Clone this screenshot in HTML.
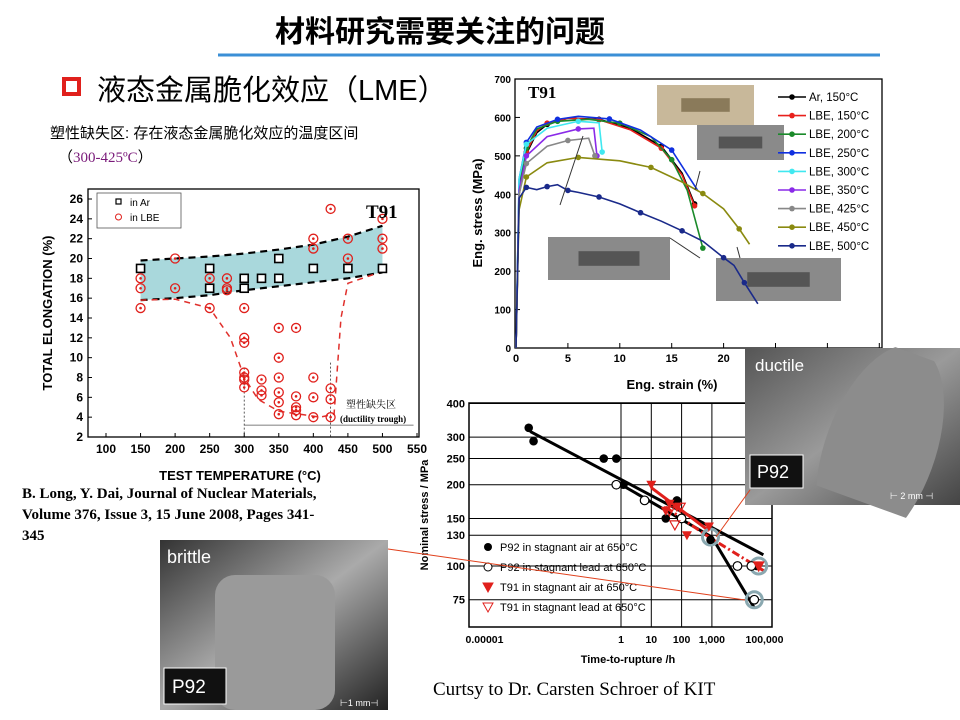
<!DOCTYPE html>
<html><head><meta charset="utf-8"><style>
body{margin:0;background:#fff;}
svg{display:block;font-family:"Liberation Sans","Noto Sans CJK SC",sans-serif;}
</style></head><body>
<svg id="s" width="960" height="720" viewBox="0 0 960 720">
<defs>
<linearGradient id="gd" x1="0" y1="0" x2="1" y2="1"><stop offset="0" stop-color="#555"/><stop offset="0.5" stop-color="#9a9a9a"/><stop offset="1" stop-color="#444"/></linearGradient>
<linearGradient id="gb" x1="0" y1="0" x2="1" y2="1"><stop offset="0" stop-color="#333"/><stop offset="0.5" stop-color="#aaa"/><stop offset="1" stop-color="#222"/></linearGradient>
<clipPath id="cd"><rect x="745" y="348" width="215" height="157"/></clipPath>
</defs>
<text x="440" y="42" text-anchor="middle" font-size="30" font-weight="bold" font-family="'Noto Sans CJK SC',sans-serif">材料研究需要关注的问题</text>
<line x1="218" y1="55" x2="880" y2="55" stroke="#3b8fd6" stroke-width="3"/>
<rect x="64" y="79" width="15" height="15" fill="none" stroke="#e0201c" stroke-width="4"/>
<text x="97" y="100" font-size="29" font-family="'Liberation Sans','Noto Sans CJK SC',sans-serif">液态金属脆化效应（LME）</text>
<text x="50" y="138" font-size="15">塑性缺失区: 存在液态金属脆化效应的温度区间</text>
<text x="58" y="162" font-size="15">（<tspan fill="#7a1a7a" font-family="'Liberation Serif',serif">300-425ºC</tspan>）</text>

<g id="lc">
<rect x="88" y="189" width="331" height="248" fill="#fff" stroke="#000" stroke-width="1.3"/>
</g>
<g id="rc">
<rect x="515" y="79" width="367" height="269" fill="#fff" stroke="#000" stroke-width="1.3"/>
</g>
<g id="bc">
<rect x="469" y="403" width="303" height="224" fill="#fff" stroke="#000" stroke-width="1.5"/>
</g>

<text x="22" y="498" font-size="15" font-weight="bold" font-family="'Liberation Serif',serif"><tspan x="22">B. Long, Y. Dai, Journal of Nuclear Materials,</tspan><tspan x="22" dy="21">Volume 376, Issue 3, 15 June 2008, Pages 341-</tspan><tspan x="22" dy="21">345</tspan></text>

<g>
<rect x="745" y="348" width="215" height="157" fill="url(#gd)"/>
<ellipse cx="880" cy="450" rx="55" ry="110" fill="#8c8c8c" transform="rotate(20 880 450)" clip-path="url(#cd)"/>
<text x="755" y="371" font-size="17" fill="#fff">ductile</text>
<rect x="750" y="455" width="53" height="33" fill="#111" stroke="#fff" stroke-width="1"/>
<text x="757" y="478" font-size="18" fill="#fff">P92</text>
<text x="890" y="499" font-size="9" fill="#fff">⊢ 2 mm ⊣</text>
</g>
<g>
<rect x="160" y="540" width="228" height="170" fill="url(#gb)"/>
<rect x="215" y="575" width="120" height="135" rx="20" fill="#9a9a9a"/>
<text x="167" y="563" font-size="18" fill="#fff">brittle</text>
<rect x="164" y="668" width="62" height="36" fill="#111" stroke="#fff" stroke-width="1"/>
<text x="172" y="693" font-size="19" fill="#fff">P92</text>
<text x="340" y="706" font-size="9" fill="#fff">⊢1 mm⊣</text>
</g>
<line x1="388" y1="549" x2="745" y2="600" stroke="#e0401c" stroke-width="1"/>
<line x1="750" y1="490" x2="716" y2="537" stroke="#e0401c" stroke-width="1"/>
<text x="433" y="695" font-size="19" font-family="'Liberation Serif',serif">Curtsy to Dr. Carsten Schroer of KIT</text>
</svg>
<script>
const arTemps=[150,250,250,300,300,325,350,350,400,450,500];
const arElong=[19,19,17,18,17,18,20,18,19,19,19];
const lbeTemps=[150,150,150,200,200,250,250,275,275,275,300,300,300,300,300,300,300,325,325,325,350,350,350,350,350,350,375,375,375,375,375,400,400,400,400,400,425,425,425,425,450,450,500,500,500];
const lbeElong=[18,17,15,20,17,18,15,18,17,16.8,15,12,11.5,8.5,8,7.8,7,7.8,6.7,6.2,13,10,8,6.5,5.5,4.3,13,6.1,5,4.7,4.2,22,21,8,6,4,25,6.9,5.8,4,22,20,24,22,21];
const bandTemps=[150,200,250,300,350,400,450,500];
const bandUpper=[19.8,20,20.2,20.5,20.9,21.4,22.2,23.3];
const bandLower=[15.8,16,16.3,16.8,17.2,17.6,18,18.6];
const xTicksL=[100,150,200,250,300,350,400,450,500,550];
const yTicksL=[2,4,6,8,10,12,14,16,18,20,22,24,26];
const NS='http://www.w3.org/2000/svg';
function mk(p,tag,a){const e=document.createElementNS(NS,tag);for(const k in a)e.setAttribute(k,a[k]);p.appendChild(e);return e;}
const lx=t=>106+(t-100)*(311/450), ly=v=>437-(v-2)*(238/24);
const lc=document.getElementById('lc');
let d='M'+bandTemps.map((t,i)=>lx(t)+','+ly(bandUpper[i])).join('L')+'L'+bandTemps.slice().reverse().map((t,i)=>lx(t)+','+ly(bandLower[bandLower.length-1-i])).join('L')+'Z';
let band=mk(lc,'path',{d:d,fill:'#a9d8dc'});


[bandUpper,bandLower].forEach((arr,j)=>{const l=mk(lc,'polyline',{points:bandTemps.map((t,i)=>lx(t)+','+ly(arr[i])).join(' '),fill:'none',stroke:'#000','stroke-width':2.2,'stroke-dasharray':'7,5'});

});
const trough=[[150,15.8],[200,15.9],[250,15],[280,12],[300,8],[320,5.8],[350,4.6],[380,4.3],[410,4],[430,4.3],[440,14],[450,17.5],[500,18.7]];
let tr=mk(lc,'polyline',{points:trough.map(p=>lx(p[0])+','+ly(p[1])).join(' '),fill:'none',stroke:'#e0302c','stroke-width':1.5,'stroke-dasharray':'6,5'});


mk(lc,'line',{x1:lx(300),y1:ly(9),x2:lx(300),y2:437,stroke:'#333','stroke-dasharray':'2,2','stroke-width':0.8});
mk(lc,'line',{x1:lx(425),y1:ly(9.5),x2:lx(425),y2:437,stroke:'#333','stroke-dasharray':'2,2','stroke-width':0.8});
mk(lc,'line',{x1:lx(300),y1:ly(3.2),x2:lx(545),y2:ly(3.2),stroke:'#555','stroke-width':0.8});
arTemps.forEach((t,i)=>{const r=mk(lc,'rect',{x:lx(t)-4,y:ly(arElong[i])-4,width:8,height:8,fill:'#fff',stroke:'#000','stroke-width':1.6});

});
lbeTemps.forEach((t,i)=>{const c=mk(lc,'circle',{cx:lx(t),cy:ly(lbeElong[i]),r:4.5,fill:'none',stroke:'#e0201c','stroke-width':1.3});


mk(lc,'circle',{cx:lx(t),cy:ly(lbeElong[i]),r:1.3,fill:'#e0201c'});});
xTicksL.forEach(t=>{mk(lc,'line',{x1:lx(t),y1:437,x2:lx(t),y2:433,stroke:'#000'});const e=mk(lc,'text',{x:lx(t),y:453,'text-anchor':'middle','font-size':12,'font-weight':'bold'});e.textContent=t;});
yTicksL.forEach(v=>{mk(lc,'line',{x1:88,y1:ly(v),x2:92,y2:ly(v),stroke:'#000'});const e=mk(lc,'text',{x:83,y:ly(v)+4,'text-anchor':'end','font-size':12,'font-weight':'bold'});e.textContent=v;});
let t1=mk(lc,'text',{x:240,y:480,'text-anchor':'middle','font-size':13,'font-weight':'bold'});t1.textContent='TEST TEMPERATURE (°C)';


let t2=mk(lc,'text',{x:52,y:313,'text-anchor':'middle','font-size':13,'font-weight':'bold',transform:'rotate(-90 52 313)'});t2.textContent='TOTAL ELONGATION (%)';


let lg=mk(lc,'rect',{x:97,y:193,width:84,height:35,fill:'#fff',stroke:'#555','stroke-width':0.8});


mk(lc,'rect',{x:116,y:199,width:5,height:5,fill:'none',stroke:'#000','stroke-width':1.2});
mk(lc,'circle',{cx:118.5,cy:217,r:3,fill:'none',stroke:'#e0201c'});
let a=mk(lc,'text',{x:130,y:206,'font-size':10});a.textContent='in Ar';
a=mk(lc,'text',{x:130,y:221,'font-size':10});a.textContent='in LBE';
a=mk(lc,'text',{x:366,y:218,'font-size':19,'font-weight':'bold','font-family':"'Liberation Serif',serif"});a.textContent='T91';
a=mk(lc,'text',{x:346,y:408,'font-size':10,'font-family':"'Noto Serif CJK SC',serif"});a.textContent='塑性缺失区';
a=mk(lc,'text',{x:340,y:422,'font-size':9,'font-weight':'bold','font-family':"'Liberation Serif',serif"});a.textContent='(ductility trough)';

const seriesNames=['Ar, 150°C','LBE, 150°C','LBE, 200°C','LBE, 250°C','LBE, 300°C','LBE, 350°C','LBE, 425°C','LBE, 450°C','LBE, 500°C'];
const seriesColors=['#000','#e8201c','#1a8a2a','#1030e0','#40e8f0','#8a2ae8','#888','#8a8a10','#1a2a8a'];
const strainAr150=[0,0.3,1,2,3,5,8,11,14,16,17.2];
const stressAr150=[0,400,505,560,582,598,595,572,525,455,375];
const strainL150=[0,0.3,1,2,3,5,8,11,14,16,17.2];
const stressL150=[0,400,510,565,585,598,594,568,520,450,370];
const strainL200=[0,0.3,1,2,4,7,10,13,15,16.5,18];
const stressL200=[0,420,520,570,590,595,585,550,490,410,260];
const strainL250=[0,0.3,1,2,4,6,9,12,15,17.5];
const stressL250=[0,440,535,575,595,603,596,567,515,410];
const strainL300=[0,0.3,1,3,6,8,8.3];
const stressL300=[0,440,530,572,590,586,510];
const strainL350=[0,0.3,1,3,6,7.5,7.8];
const stressL350=[0,410,500,550,570,572,500];
const strainL425=[0,0.3,1,3,5,7,7.6];
const stressL425=[0,400,480,525,540,546,500];
const strainL450=[0,0.3,1,3,6,10,13,16,18,20,21.5,22.5];
const stressL450=[0,360,445,482,496,487,470,432,402,362,310,270];
const strainL500=[0,0.3,1,2,3,4,5,6,8,10,12,14,16,18,20,21,22,23.3];
const stressL500=[0,390,418,412,420,425,410,405,393,375,352,330,305,278,235,215,170,115];
const allStrain=[strainAr150,strainL150,strainL200,strainL250,strainL300,strainL350,strainL425,strainL450,strainL500];
const allStress=[stressAr150,stressL150,stressL200,stressL250,stressL300,stressL350,stressL425,stressL450,stressL500];
const xTicksR=[0,5,10,15,20];
const yTicksR=[0,100,200,300,400,500,600,700];
const rx=s=>516+s*10.38, ry=v=>348-v*(269/700);
const rc=document.getElementById('rc');
yTicksR.forEach(v=>{mk(rc,'line',{x1:515,y1:ry(v),x2:520,y2:ry(v),stroke:'#000'});const e=mk(rc,'text',{x:511,y:ry(v)+4,'text-anchor':'end','font-size':10,'font-weight':'bold'});e.textContent=v;});
for(let s=0;s<=35;s+=5){mk(rc,'line',{x1:rx(s),y1:348,x2:rx(s),y2:343,stroke:'#000'});}
xTicksR.forEach(s=>{const e=mk(rc,'text',{x:rx(s),y:362,'text-anchor':'middle','font-size':11,'font-weight':'bold'});e.textContent=s;});
[[657,85,97,40],[697,125,87,35],[548,237,122,43],[716,258,125,43]].forEach((p,i)=>{const r=mk(rc,'rect',{x:p[0],y:p[1],width:p[2],height:p[3],fill:i==0?'#c8b89a':'#8a8a8a'});


mk(rc,'rect',{x:p[0]+p[2]*0.25,y:p[1]+p[3]*0.33,width:p[2]*0.5,height:p[3]*0.34,fill:i==0?'#8a7a5a':'#555'});});
allStrain.forEach((xs,i)=>{const l=mk(rc,'polyline',{points:xs.map((s,j)=>rx(s)+','+ry(allStress[i][j])).join(' '),fill:'none',stroke:seriesColors[i],'stroke-width':1.6});


xs.forEach((s,j)=>{if(j>1&&j%2==0)mk(rc,'circle',{cx:rx(s),cy:ry(allStress[i][j]),r:2.8,fill:seriesColors[i]});});});
[[583,136,560,205],[700,171,695,190],[670,238,700,258],[740,258,737,247]].forEach(p=>mk(rc,'line',{x1:p[0],y1:p[1],x2:p[2],y2:p[3],stroke:'#333','stroke-width':1}));
seriesNames.forEach((n,i)=>{const y=97+i*18.6;mk(rc,'line',{x1:778,y1:y,x2:806,y2:y,stroke:seriesColors[i],'stroke-width':1.6});mk(rc,'circle',{cx:792,cy:y,r:2.8,fill:seriesColors[i]});
const e=mk(rc,'text',{x:809,y:y+4,'font-size':11.5});e.textContent=n;

});
a=mk(rc,'text',{x:528,y:98,'font-size':17,'font-weight':'bold','font-family':"'Liberation Serif',serif"});a.textContent='T91';
a=mk(rc,'text',{x:672,y:389,'text-anchor':'middle','font-size':13,'font-weight':'bold'});a.textContent='Eng. strain (%)';
a=mk(rc,'text',{x:482,y:213,'text-anchor':'middle','font-size':13,'font-weight':'bold',transform:'rotate(-90 482 213)'});a.textContent='Eng. stress (MPa)';



const p92AirTime=[0.0009,0.0013,0.27,0.7,1.2,30,70,900,30000];
const p92AirStress=[325,290,250,250,200,150,175,125,100];
const p92LeadTime=[0.7,6,100,7000,20000,25000];
const p92LeadStress=[200,175,150,100,100,75];
const t91AirTime=[10,30,40,70,150,800,35000];
const t91AirStress=[200,160,170,165,130,140,100];
const t91LeadTime=[40,60,90,35000];
const t91LeadStress=[160,142,165,100];
const fitP92AirT=[0.001,50000];const fitP92AirS=[315,110];
const fitP92LeadT=[0.7,1000,25000];const fitP92LeadS=[205,128,70];
const fitT91T=[10,800];const fitT91S=[195,135];
const fitT91LeadT=[30,800,60000];const fitT91LeadS=[165,128,95];
const xTicksB=[0.00001,1,10,100,1000,100000];
const xTickLabelsB=['0.00001','1','10','100','1,000','100,000'];
const yTicksB=[75,100,130,150,200,250,300,400];
const bx=t=>621+Math.log10(t)*30.3, by=v=>566-Math.log10(v/100)*270;
const bc=document.getElementById('bc');
[1,10,100,1000].forEach(t=>mk(bc,'line',{x1:bx(t),y1:403,x2:bx(t),y2:627,stroke:'#000','stroke-width':1}));
yTicksB.forEach(v=>{mk(bc,'line',{x1:469,y1:by(v),x2:772,y2:by(v),stroke:'#000','stroke-width':1});const e=mk(bc,'text',{x:465,y:by(v)+4,'text-anchor':'end','font-size':11,'font-weight':'bold'});e.textContent=v;});
xTicksB.forEach((t,i)=>{const e=mk(bc,'text',{x:bx(t)+(i==0?15:i==5?-8:0),y:643,'text-anchor':'middle','font-size':10.5,'font-weight':'bold'});e.textContent=xTickLabelsB[i];});
[[fitP92AirT,fitP92AirS,'#000',3,''],[fitP92LeadT,fitP92LeadS,'#000',3,''],[fitT91T,fitT91S,'#e0201c',3,''],[fitT91LeadT,fitT91LeadS,'#e0201c',3,'8,3,2,3']].forEach(f=>{const l=mk(bc,'polyline',{points:f[0].map((t,j)=>bx(t)+','+by(f[1][j])).join(' '),fill:'none',stroke:f[2],'stroke-width':f[3],'stroke-dasharray':f[4]});

});
[[900,128],[35000,100],[25000,75]].forEach(p=>mk(bc,'circle',{cx:bx(p[0]),cy:by(p[1]),r:8,fill:'none',stroke:'#8aa8b0','stroke-width':3}));
p92AirTime.forEach((t,i)=>{const c=mk(bc,'circle',{cx:bx(t),cy:by(p92AirStress[i]),r:4.3,fill:'#000'});});
p92LeadTime.forEach((t,i)=>{const c=mk(bc,'circle',{cx:bx(t),cy:by(p92LeadStress[i]),r:4.3,fill:'#fff',stroke:'#000','stroke-width':1.2});});
const tri=(x,y,up)=>up?`${x-5},${y+4} ${x+5},${y+4} ${x},${y-5}`:`${x-5},${y-4} ${x+5},${y-4} ${x},${y+5}`;
t91AirTime.forEach((t,i)=>{const c=mk(bc,'polygon',{points:tri(bx(t),by(t91AirStress[i]),false),fill:'#e0201c'});});
t91LeadTime.forEach((t,i)=>{const c=mk(bc,'polygon',{points:tri(bx(t),by(t91LeadStress[i]),false),fill:'none',stroke:'#e0201c','stroke-width':1.2});});
const lgB=['P92 in stagnant air at 650°C','P92 in stagnant lead at 650°C','T91 in stagnant air at 650°C','T91 in stagnant lead at 650°C'];
lgB.forEach((n,i)=>{const y=547+i*20;if(i==0)mk(bc,'circle',{cx:488,cy:y,r:4,fill:'#000'});else if(i==1)mk(bc,'circle',{cx:488,cy:y,r:4,fill:'#fff',stroke:'#000'});else mk(bc,'polygon',{points:tri(488,y,false),fill:i==2?'#e0201c':'none',stroke:'#e0201c'});
const e=mk(bc,'text',{x:500,y:y+4,'font-size':11});e.textContent=n;

});
a=mk(bc,'text',{x:628,y:663,'text-anchor':'middle','font-size':11,'font-weight':'bold'});a.textContent='Time-to-rupture /h';
a=mk(bc,'text',{x:428,y:515,'text-anchor':'middle','font-size':11,'font-weight':'bold',transform:'rotate(-90 428 515)'});a.textContent='Nominal stress / MPa';


</script>
</body></html>
